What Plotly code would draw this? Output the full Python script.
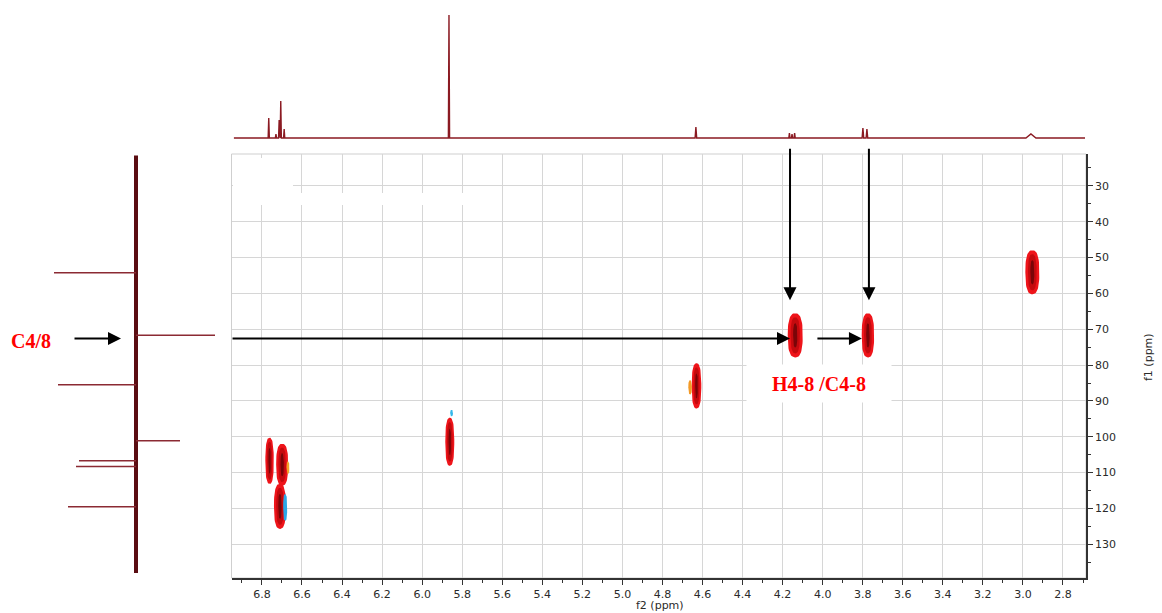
import numpy as np
import plotly.graph_objects as go

W, H = 1162, 613

# ---- 1H projection (f2): peak positions (ppm), heights, half-widths ----
h1_ppm = [6.766, 6.730, 6.714, 6.706, 6.689, 5.866, 4.633, 4.166, 4.153, 4.140, 3.799, 3.779, 2.960]
h1_int = [20, 4, 18, 37, 9, 123, 11, 5, 4, 5, 10, 9, 4]
h1_hw = [0.003, 0.003, 0.003, 0.003, 0.003, 0.003, 0.004, 0.003, 0.003, 0.003, 0.004, 0.004, 0.025]
h1_span = [6.94, 2.69]

# ---- 13C projection (f1): DEPT-style sticks ----
c13_ppm = [54.2, 71.7, 85.5, 101.1, 106.7, 108.3, 119.5]
c13_int = [82, -79, 78, -44, 57, 60, 68]
c13_span = [21.5, 138.0]

# ---- HSQC cross peaks ----
xp_f2 = [2.953, 4.137, 3.774, 4.630, 5.862, 6.762, 6.699, 6.710]
xp_f1 = [54.1, 71.7, 71.7, 85.8, 101.4, 106.7, 107.8, 119.4]
xp_w = [0.070, 0.075, 0.062, 0.048, 0.045, 0.042, 0.060, 0.060]
xp_h = [12.3, 12.3, 12.3, 12.6, 13.4, 12.9, 11.7, 12.6]

# minor coloured contours next to some peaks
sp_f2 = [4.662, 6.670, 6.684, 5.853]
sp_f1 = [86.2, 108.6, 119.7, 93.4]
sp_w = [0.018, 0.014, 0.020, 0.014]
sp_h = [4.0, 3.5, 7.5, 1.8]
sp_col = ["#f39a26", "#f3a52a", "#2aa8e6", "#35b8ea"]

# axis settings
f2_range = [6.952, 2.685]
f1_range = [139.4, 21.1]
f1_ticks = list(range(30, 140, 10))

# pixel layout helpers
def px(x):
    return x / W

def py(y):
    return 1 - y / H

x_dom = [px(231.5), px(1086)]
y_dom = [py(578), py(154)]

fig = go.Figure()

# 1H trace built from stick/triangle peaks
order = np.argsort(h1_ppm)[::-1]
xs = [h1_span[0]]
ys = [0]
for i in order:
    p, h, w = h1_ppm[i], h1_int[i], h1_hw[i]
    xs += [p + w, p, p - w]
    ys += [0, h, 0]
xs.append(h1_span[1])
ys.append(0)
fig.add_trace(go.Scatter(x=xs, y=ys, xaxis="x2", yaxis="y2", mode="lines",
                         line=dict(color="#8b1a22", width=1.4), hoverinfo="skip",
                         showlegend=False))

# 13C trace: thick baseline plus sticks
fig.add_trace(go.Scatter(x=[0, 0], y=c13_span, xaxis="x3", yaxis="y3", mode="lines",
                         line=dict(color="#5a0d12", width=4), hoverinfo="skip",
                         showlegend=False))
sx, sy = [], []
for p, v in zip(c13_ppm, c13_int):
    sx += [0, v, None]
    sy += [p, p, None]
fig.add_trace(go.Scatter(x=sx, y=sy, xaxis="x3", yaxis="y3", mode="lines",
                         line=dict(color="#8b2a33", width=1.5), hoverinfo="skip",
                         showlegend=False))


def blobs(cx, cy, w, h, sw, sh, n=2.6):
    t = np.linspace(0, 2 * np.pi, 60)
    c, s = np.cos(t), np.sin(t)
    ex = np.sign(c) * np.abs(c) ** (2 / n)
    ey = np.sign(s) * np.abs(s) ** (2 / n)
    X, Y = [], []
    for a, b, ww, hh in zip(cx, cy, w, h):
        X += list(a + ex * ww * sw / 2) + [None]
        Y += list(b + ey * hh * sh / 2) + [None]
    return X, Y


# cross peaks: three nested contour levels
for sw, sh, col in [(1.0, 1.0, "#ee141a"), (0.62, 0.82, "#c40a0e"), (0.28, 0.55, "#7a0508")]:
    X, Y = blobs(xp_f2, xp_f1, xp_w, xp_h, sw, sh)
    fig.add_trace(go.Scatter(x=X, y=Y, mode="lines", fill="toself", fillcolor=col,
                             line=dict(width=0, color=col), hoverinfo="skip",
                             showlegend=False))
for a, b, ww, hh, col in zip(sp_f2, sp_f1, sp_w, sp_h, sp_col):
    X, Y = blobs([a], [b], [ww], [hh], 1, 1)
    fig.add_trace(go.Scatter(x=X, y=Y, mode="lines", fill="toself", fillcolor=col,
                             line=dict(width=0, color=col), hoverinfo="skip",
                             showlegend=False))

axis_font = dict(family="DejaVu Sans", size=11, color="#2a2a2a")

fig.update_layout(
    width=W, height=H,
    margin=dict(l=0, r=0, t=0, b=0),
    paper_bgcolor="white", plot_bgcolor="white",
    xaxis=dict(domain=x_dom, range=f2_range, anchor="y", dtick=0.2, tick0=0,
               tickformat=".1f", showgrid=True, gridcolor="#d6d6d6", gridwidth=1,
               zeroline=False, showline=True, linecolor="#333333", linewidth=1.5,
               ticks="outside", ticklen=5, tickcolor="#333333", tickfont=axis_font,
               minor=dict(dtick=0.1, ticks="outside", ticklen=3, tickcolor="#333333",
                          showgrid=False)),
    yaxis=dict(domain=y_dom, range=f1_range, anchor="x", side="right",
               tickvals=f1_ticks, showgrid=True, gridcolor="#d6d6d6", gridwidth=1,
               zeroline=False, showline=True, linecolor="#333333", linewidth=1.5,
               ticks="outside", ticklen=5, tickcolor="#333333", tickfont=axis_font,
               minor=dict(dtick=5, tick0=0, ticks="outside", ticklen=3,
                          tickcolor="#333333", showgrid=False)),
    xaxis2=dict(domain=x_dom, matches="x", anchor="y2", visible=False),
    yaxis2=dict(domain=[py(148), py(5)], range=[-10, 133], anchor="x2", visible=False),
    xaxis3=dict(domain=[px(40), px(230)], range=[96, -94], anchor="y3", visible=False),
    yaxis3=dict(domain=y_dom, range=f1_range, anchor="x3", visible=False),
)

# grey frame of the contour plot and blanked patches near its top-left corner
fig.add_shape(type="rect", xref="paper", yref="paper", x0=x_dom[0], x1=x_dom[1],
              y0=y_dom[0], y1=y_dom[1], line=dict(color="#cfcfcf", width=1), layer="below")
fig.add_shape(type="rect", xref="paper", yref="paper", x0=px(233), x1=px(293),
              y0=py(205), y1=py(158), fillcolor="white", line=dict(width=0), layer="above")
fig.add_shape(type="rect", xref="paper", yref="paper", x0=px(233), x1=px(490),
              y0=py(205), y1=py(193), fillcolor="white", line=dict(width=0), layer="above")

red_font = dict(family="Liberation Serif", size=20, color="#ff0000")
arrow = dict(showarrow=True, arrowhead=2, arrowsize=1.3, arrowwidth=2,
             arrowcolor="black", standoff=0, text="")
centre = dict(xanchor="center", yanchor="middle", showarrow=False)

annotations = [
    # axis titles
    dict(text="f2 (ppm)", xref="paper", yref="paper", x=px(660), y=py(605),
         font=dict(family="DejaVu Sans", size=11, color="#2a2a2a"), **centre),
    dict(text="f1 (ppm)", xref="paper", yref="paper", x=px(1148), y=py(357),
         textangle=-90, font=dict(family="DejaVu Sans", size=11, color="#2a2a2a"),
         **centre),
    # labels
    dict(text="<b>C4/8</b>", xref="paper", yref="paper", x=px(31), y=py(341),
         font=red_font, **centre),
    dict(text="<b>H4-8 /C4-8</b>", xref="paper", yref="paper", x=px(819), y=py(384),
         font=red_font, bgcolor="white", width=144, height=37, borderpad=0, **centre),
    # arrows
    dict(xref="paper", yref="y", x=px(121), y=72.6, ax=-48, ay=0, **arrow),
    dict(xref="x", yref="y", x=4.163, y=72.6, ax=-559, ay=0, **arrow),
    dict(xref="x", yref="y", x=3.804, y=72.6, ax=-46, ay=0, **arrow),
    dict(xref="x", yref="y", x=4.163, y=61.9, ax=0, ay=-153, **arrow),
    dict(xref="x", yref="y", x=3.769, y=61.9, ax=0, ay=-153, **arrow),
]
fig.update_layout(annotations=annotations)

fig.write_html("out.html")
